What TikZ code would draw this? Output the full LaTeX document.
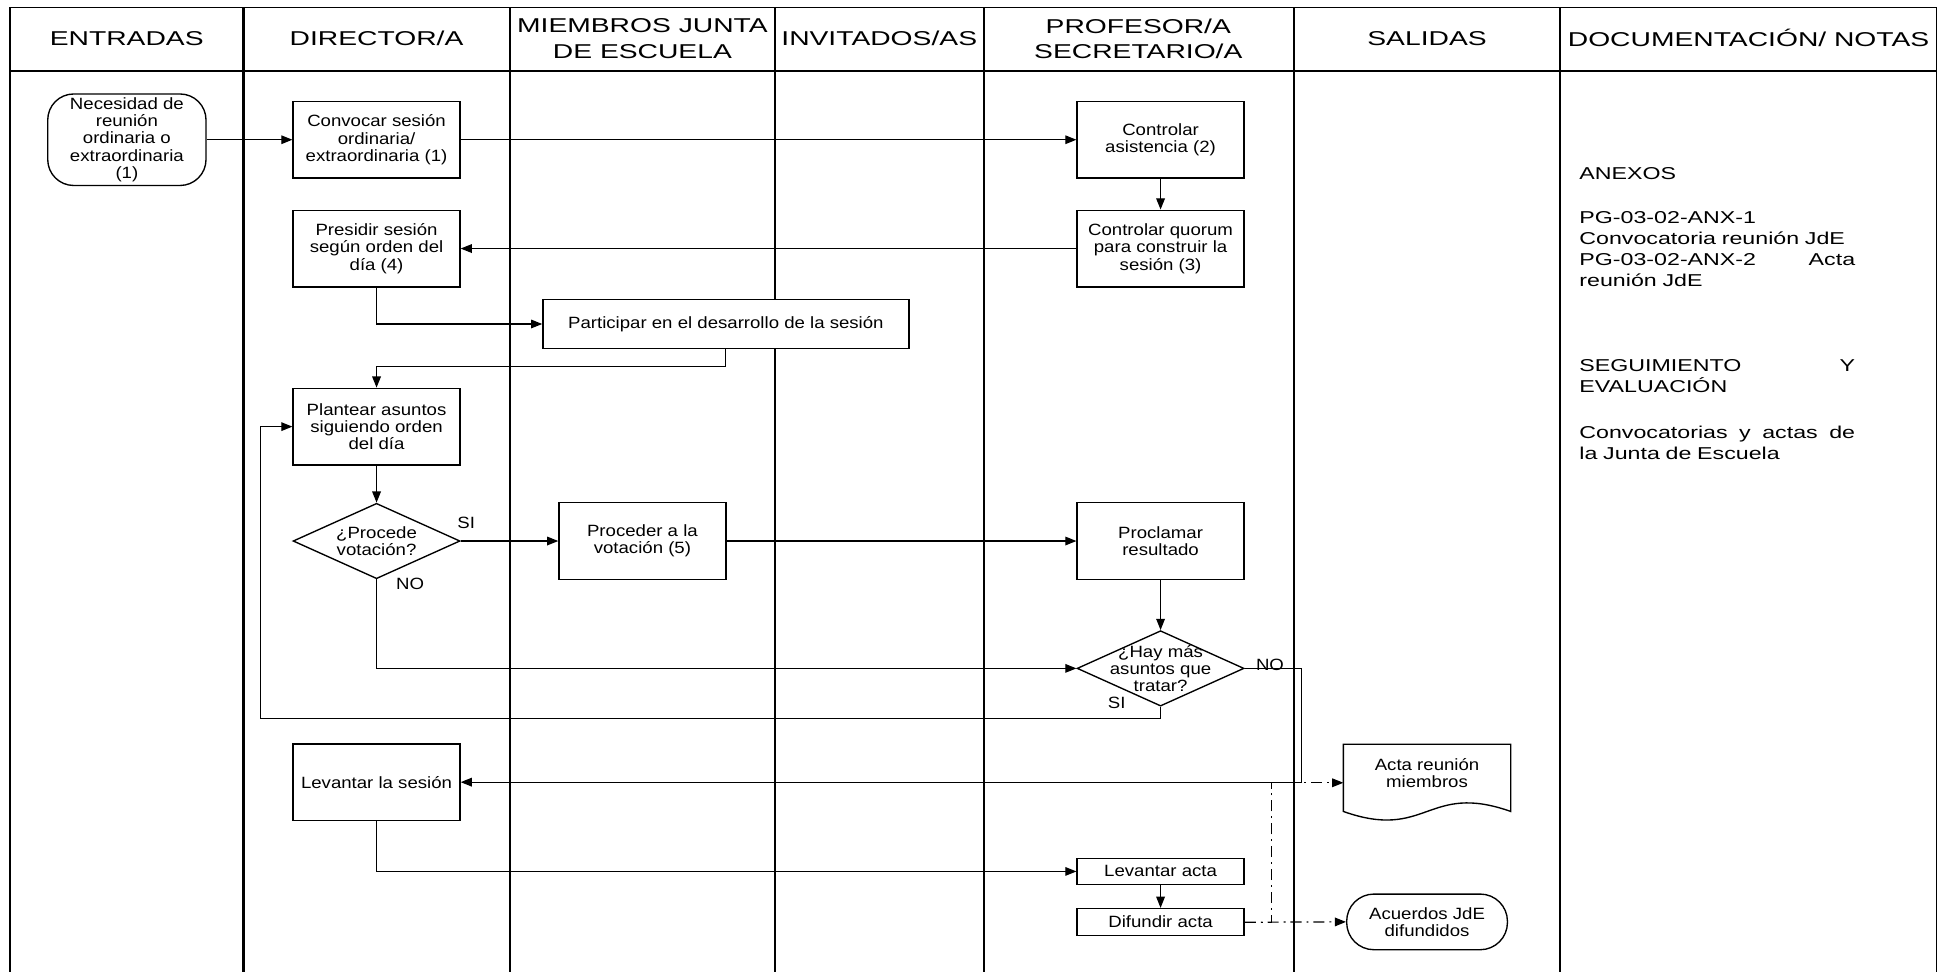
\documentclass[tikz,border=0pt]{standalone}
\usepackage{fontspec}
\setmainfont{Liberation Sans}
\newfontfamily\hdrfont[FakeStretch=1.41]{Liberation Sans}
\newfontfamily\boxfont[FakeStretch=1.14]{Liberation Sans}
\newfontfamily\docfont[FakeStretch=1.35]{Liberation Sans}
\usetikzlibrary{arrows.meta,shapes.geometric}
\tikzset{
  lane/.style={line width=1.4pt},
  hdr/.style={font=\hdrfont\fontsize{16.2}{20.8}\selectfont, align=center, inner sep=0pt},
  boxtxt/.style={font=\boxfont\fontsize{13.2}{14}\selectfont, align=center, inner sep=0pt},
  proc/.style={draw, fill=white, line width=1.1pt, rectangle, inner sep=0pt, minimum width=135pt, minimum height=62pt, boxtxt},
  term/.style={draw, fill=white, line width=1.1pt, rectangle, rounded corners=21pt, inner sep=0pt, boxtxt},
  dec/.style={draw, fill=white, line width=1.1pt, diamond, inner sep=0pt, minimum width=135pt, minimum height=61pt},
  lbl/.style={boxtxt},
  doc/.style={font=\docfont\fontsize{13.9}{17}\selectfont, align=left, inner sep=0pt},
  arr/.style={line width=0.9pt, -{Triangle[length=9pt,width=7pt]}},
  dd/.style={line width=0.9pt, dash pattern=on 9pt off 4pt on 1.5pt off 4pt, -{Triangle[length=9pt,width=7pt]}}
}
\begin{document}
\begin{tikzpicture}[x=1pt, y=-1pt]
\useasboundingbox (0,0) rectangle (1568,786);
% frame and lanes
\draw[lane] (8,786) -- (8,6) -- (1566,6) -- (1566,786);
\draw[line width=1.1pt] (8,57.4) -- (1566,57.4);
\draw[line width=1.9pt] (197,6) -- (197,786);
\foreach \xx in {412.5,627,795.5,1046.5,1261.5} \draw[lane] (\xx,6) -- (\xx,786);
% headers
\node[hdr] (hEnt) at (102.5,31) {ENTRADAS};
\node[hdr] (hDir) at (304.5,31) {DIRECTOR/A};
\node[hdr] (hMie) at (519.5,31.4) {MIEMBROS JUNTA\\DE ESCUELA};
\node[hdr] (hInv) at (711,31) {INVITADOS/AS};
\node[hdr] (hPro) at (920.5,31.4) {PROFESOR/A\\SECRETARIO/A};
\node[hdr] (hSal) at (1154,31) {SALIDAS};
\node[hdr] (hDoc) at (1414,31) {DOCUMENTACIÓN/ NOTAS};
% connectors first (boxes drawn on top)
\coordinate (f1) at (587,296.5);
\coordinate (l1) at (938.5,581);
\coordinate (l2) at (211,581);
\coordinate (m1) at (1052.6,540.5);
\coordinate (p1) at (1028,745.7);
% nodes
\node[term, minimum width=128pt, minimum height=74pt] (start) at (102.6,113) {Necesidad de\\reunión\\ordinaria o\\extraordinaria\\(1)};
\node[proc] (convocar) at (304.5,113) {Convocar sesión\\ordinaria/\\extraordinaria (1)};
\node[proc] (asist) at (938.5,113) {Controlar\\asistencia (2)};
\node[proc] (quorum) at (938.5,201) {Controlar quorum\\para construir la\\sesión (3)};
\node[proc] (presidir) at (304.5,201) {Presidir sesión\\según orden del\\día (4)};
\node[proc, minimum width=296pt, minimum height=39.5pt] (particip) at (587,262) {Participar en el desarrollo de la sesión};
\node[proc] (plantear) at (304.5,345) {Plantear asuntos\\siguiendo orden\\del día};
\node[dec] (procede) at (304.5,437.5) {};
\node[boxtxt] (procedeT) at (304.5,437.5) {¿Procede\\votación?};
\node[proc] (proceder) at (519.5,437.5) {Proceder a la\\votación (5)};
\node[proc] (proclamar) at (938.5,437.5) {Proclamar\\resultado};
\node[dec] (haymas) at (938.5,540.5) {};
\node[boxtxt] (haymasT) at (938.5,540.5) {¿Hay más\\asuntos que\\tratar?};
\node[proc] (levsesion) at (304.5,632.5) {Levantar la sesión};
\node[proc, minimum height=21pt] (levacta) at (938.5,704.7) {Levantar acta};
\node[proc, minimum height=22pt] (difundir) at (938.5,745.7) {Difundir acta};
\node[rectangle, inner sep=0pt, minimum width=135pt, minimum height=62pt] (acta) at (1154,633) {};
\draw[line width=1.1pt, fill=white] (acta.north west) -- (acta.north east) -- ([yshift=8pt]acta.south east)
  .. controls ([yshift=32pt]acta.south) and ([yshift=-16pt]acta.south) .. ([yshift=8pt]acta.south west) -- cycle;
\node[boxtxt] (actaT) at (1154,625) {Acta reunión\\miembros};
\node[term, minimum width=130pt, minimum height=45pt, rounded corners=22pt] (acuerdos) at (1154,745.5) {Acuerdos JdE\\difundidos};
% labels
\node[lbl] (si1) at (377,422.7) {SI};
\node[lbl] (no1) at (331.6,472) {NO};
\node[lbl] (si2) at (903,568.6) {SI};
\node[lbl] (no2) at (1027,537.8) {NO};
% connectors
\draw[arr] (start.east) -- (convocar.west);
\draw[arr] (convocar.east) -- (asist.west);
\draw[arr] (asist.south) -- (quorum.north);
\draw[arr] (quorum.west) -- (presidir.east);
\draw[arr] (presidir.south) |- (particip.west);
\draw[arr] (particip.south) -- (f1) -| (plantear.north);
\draw[arr] (plantear.south) -- (procede.north);
\draw[arr] (procede.east) -- (proceder.west);
\draw[arr] (proceder.east) -- (proclamar.west);
\draw[arr] (proclamar.south) -- (haymas.north);
\draw[arr] (procede.south) |- (haymas.west);
\draw[arr] (haymas.south) -- (l1) -- (l2) |- (plantear.west);
\draw[arr] (haymas.east) -- (m1) |- (levsesion.east);
\draw[arr] (levsesion.south) |- (levacta.west);
\draw[arr] (levacta.south) -- (difundir.north);
\draw[dd] (difundir.east) -- (p1) |- (acta.west);
\draw[dd] (difundir.east) -- (acuerdos.west);
% documentation
\node[doc, anchor=west] (anexos) at (1277,140) {ANEXOS};
\node[doc, anchor=north west, text width=223pt] (anx) at (1277,170.7) {PG-03-02-ANX-1\\Convocatoria reunión JdE\\PG-03-02-ANX-2\hfill Acta\\reunión JdE};
\node[doc, anchor=north west, text width=223pt] (seg) at (1277,290.7) {SEGUIMIENTO\hfill Y\\EVALUACIÓN};
\node[doc, anchor=north west, text width=223pt] (conv) at (1277,344) {Convocatorias\hfill y\hfill actas\hfill de\\la Junta de Escuela};
\end{tikzpicture}
\end{document}
